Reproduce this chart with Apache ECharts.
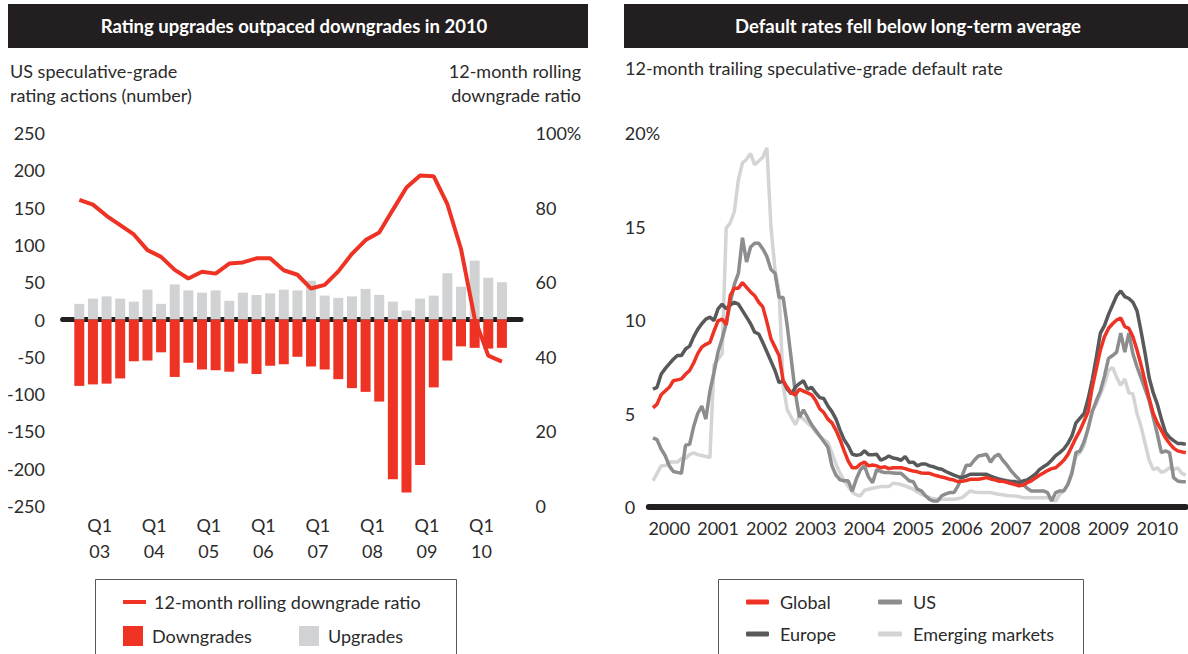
<!DOCTYPE html>
<html>
<head>
<meta charset="utf-8">
<title>Rating actions and default rates</title>
<script src="https://cdn.jsdelivr.net/npm/echarts@6/dist/echarts.min.js"></script>
<style>
  html, body { margin: 0; padding: 0; background: #fff; }
  #chart { width: 1188px; height: 654px; }
</style>
</head>
<body>
<div id="chart"></div>
<script>
// ---- left panel: US speculative-grade rating actions, Q1 2003 - Q4 2010 ----
var quarterYears = ['03', '04', '05', '06', '07', '08', '09', '10'];
var upgrades = [21, 28, 31, 28, 24, 40, 21, 47, 39, 36, 39, 25, 36, 33, 35, 40,
                39, 52, 32, 29, 31, 41, 33, 24, 12, 28, 32, 62, 44, 79, 56, 50];
var downgrades = [-89, -87, -86, -79, -56, -55, -44, -77, -58, -67, -68, -70, -59, -73, -62, -60,
                  -50, -63, -67, -80, -92, -97, -110, -214, -232, -195, -91, -55, -36, -38, -39, -38];
var downgradeRatio = [82.1, 80.8, 77.8, 75.3, 72.8, 68.6, 66.8, 63.3, 61.0, 62.8, 62.3, 65.0, 65.3, 66.4, 66.4, 63.2,
                      62.0, 58.3, 59.3, 62.9, 67.6, 71.3, 73.3, 79.4, 85.4, 88.6, 88.4, 80.9, 68.9, 50.3, 40.3, 38.7];

// ---- right panel: 12-month trailing default rate, monthly Jan 2000 - Dec 2010 ----
var years = ['2000', '2001', '2002', '2003', '2004', '2005', '2006', '2007', '2008', '2009', '2010'];
var globalRate = [
  5.3, 5.5, 6.0, 6.2, 6.4, 6.75, 6.8, 6.85, 7.1, 7.3, 7.7, 8.2,
  8.55, 8.7, 8.8, 9.4, 9.95, 10.05, 9.75, 11.3, 11.7, 11.7, 12.0, 11.75,
  11.5, 11.3, 10.95, 10.7, 9.9, 9.0, 8.55, 8.1, 6.75, 6.4, 6.1, 6.0,
  6.3, 6.2, 6.1, 6.0, 5.7, 5.25, 5.05, 4.7, 4.5, 4.1, 3.6, 3.0,
  2.45, 2.1, 2.1, 2.3, 2.4, 2.2, 2.25, 2.2, 2.1, 2.15, 2.05, 2.1,
  2.1, 2.1, 2.05, 1.98, 1.92, 1.88, 1.82, 1.8, 1.8, 1.72, 1.66, 1.6,
  1.55, 1.48, 1.44, 1.35, 1.38, 1.42, 1.48, 1.48, 1.48, 1.52, 1.57, 1.5,
  1.45, 1.38, 1.38, 1.32, 1.25, 1.2, 1.13, 1.18, 1.3, 1.4, 1.55, 1.7,
  1.82, 1.95, 2.05, 2.1, 2.29, 2.5, 2.8, 3.25, 3.7, 4.1, 4.6, 5.1,
  6.4, 7.4, 8.4, 9.1, 9.55, 9.8, 10.0, 10.1, 9.65, 9.55, 9.1, 8.4,
  7.6, 6.7, 5.8, 5.0, 4.5, 4.1, 3.7, 3.4, 3.15, 3.0, 2.95, 2.9
];
var usRate = [
  3.7, 3.6, 3.1, 2.75, 2.2, 1.9, 1.85, 1.8, 3.3, 3.35, 4.3, 5.0,
  5.4, 4.7, 6.2, 7.2, 8.3, 9.0, 9.8, 10.9, 11.9, 12.5, 14.4, 13.1,
  13.9, 14.1, 14.1, 13.8, 13.4, 12.7, 12.5, 11.2, 11.2, 9.7, 7.9, 6.1,
  4.8, 5.2, 4.8, 4.4, 4.1, 3.8, 3.5, 3.2, 2.2, 1.7, 1.45, 1.4,
  1.4, 0.85, 1.5, 2.0, 2.2, 1.6, 1.3, 2.0, 1.9, 1.84, 1.84, 1.82,
  1.8, 1.8, 1.6, 1.4, 1.35, 0.95, 0.86, 0.6, 0.41, 0.32, 0.32, 0.6,
  0.7, 0.77, 0.77, 1.13, 1.66, 2.23, 2.23, 2.5, 2.73, 2.77, 2.82, 2.4,
  2.7, 2.82, 2.5, 2.25, 1.95, 1.7, 1.48, 1.22, 1.0, 0.86, 0.86, 0.86,
  0.86, 0.77, 0.32, 0.77, 0.86, 0.86, 1.2, 1.8, 2.91, 3.0, 3.5, 4.2,
  5.1, 5.68, 6.2, 7.0, 7.95, 8.1, 8.28, 9.3, 8.28, 9.3, 8.19, 7.5,
  6.9, 6.3, 5.68, 4.8, 3.9, 2.91, 3.0, 2.91, 1.57, 1.39, 1.35, 1.35
];
var europeRate = [
  6.3, 6.4, 7.1, 7.4, 7.65, 7.9, 8.1, 8.1, 8.45, 8.6, 9.1, 9.5,
  9.8, 10.05, 10.15, 9.97, 10.6, 10.85, 10.6, 10.8, 10.95, 10.85, 10.5, 10.15,
  9.8, 9.35, 9.25, 8.8, 8.3, 7.8, 7.3, 6.65, 6.75, 6.3, 6.05, 6.4,
  6.6, 6.75, 6.3, 6.4, 6.1, 5.85, 5.8, 5.4, 5.1, 4.7, 4.1, 3.6,
  3.27, 2.82, 2.77, 2.8, 3.0, 2.8, 2.8, 2.82, 2.5, 2.6, 2.73, 2.62,
  2.58, 2.5, 2.7, 2.38, 2.4, 2.2, 2.3, 2.3, 2.2, 2.15, 2.06, 2.02,
  1.9, 1.8, 1.7, 1.62, 1.57, 1.65, 1.75, 1.75, 1.75, 1.75, 1.75, 1.65,
  1.57, 1.5, 1.45, 1.4, 1.36, 1.36, 1.3, 1.39, 1.45, 1.6, 1.75, 2.0,
  2.15, 2.29, 2.5, 2.75, 2.91, 3.1, 3.4, 3.8, 4.5, 4.75, 5.0, 5.8,
  6.8, 8.0, 9.3, 9.7, 10.3, 10.8, 11.3, 11.55, 11.25, 11.15, 10.95, 10.5,
  9.4, 8.2, 6.9, 6.1, 5.5, 4.7, 4.0, 3.72, 3.55, 3.4, 3.4, 3.35
];
var emergingRate = [
  1.4, 1.8, 2.2, 2.2, 2.4, 2.4, 2.4, 2.6, 2.6, 2.8, 2.9, 2.8,
  2.75, 2.7, 2.65, 7.6, 7.9, 8.2, 14.9, 15.2, 15.8, 17.5, 18.4, 18.6,
  18.9, 18.3, 18.5, 18.7, 19.2, 15.0, 12.7, 11.5, 6.5, 5.2, 4.8, 4.4,
  4.9, 4.7, 4.5, 4.3, 4.0, 3.8, 3.6, 3.45, 2.9, 2.3, 1.8, 1.4,
  1.1, 0.8, 0.65, 0.6, 0.9, 0.95, 1.0, 1.05, 1.09, 1.09, 1.09, 1.27,
  1.25, 1.2, 1.13, 1.04, 0.95, 0.8, 0.68, 0.6, 0.5, 0.45, 0.41, 0.41,
  0.41, 0.41, 0.41, 0.45, 0.5, 0.68, 0.86, 0.8, 0.77, 0.77, 0.77, 0.77,
  0.72, 0.68, 0.65, 0.62, 0.6, 0.59, 0.55, 0.5, 0.5, 0.5, 0.5, 0.5,
  0.5, 0.5, 0.4, 0.32, 0.68, 0.86, 1.22, 1.93, 2.73, 2.91, 3.3, 4.25,
  5.15, 5.5, 6.04, 6.58, 7.3, 7.47, 6.93, 6.5, 6.85, 6.1, 6.04, 5.0,
  4.3, 3.4, 2.5, 2.0, 2.1, 1.85, 1.93, 2.1, 2.0, 2.1, 1.8, 1.7
];

var RED = '#ee3224';
var TEXT = '#2b2b2b';
var FONT = 'Lato';

function pairs(arr) {
  return arr.map(function (v, i) { return [i, v]; });
}
// Q1 labels sit in the middle of each year's four bars
var q1Pos = quarterYears.map(function (y, k) { return 1.5 + 4 * k; });
// year labels near the middle of each year
var yearPos = years.map(function (y, k) { return 4 + 12 * k; });

var chart = echarts.init(document.getElementById('chart'), null, { renderer: 'svg' });

var labelStyle = { color: TEXT, fontFamily: FONT, fontSize: 18 };
var legendText = { color: TEXT, fontFamily: FONT, fontSize: 18 };

var option = {
  animation: false,
  backgroundColor: '#fff',
  grid: [
    { left: 62.6, top: 133, width: 458.4, height: 373 },
    { left: 648.8, top: 133, width: 537, height: 374 }
  ],
  xAxis: [
    { // zero line of the left panel
      gridIndex: 0, type: 'value', min: -1.225, max: 32.4, position: 'bottom',
      axisLine: { onZero: true, onZeroAxisIndex: 0, lineStyle: { color: '#231f20', width: 5 } },
      axisTick: { show: false }, axisLabel: { show: false }, splitLine: { show: false }
    },
    { // quarter labels of the left panel
      gridIndex: 0, type: 'value', min: -1.225, max: 32.4, position: 'bottom',
      axisLine: { show: false, onZero: false }, axisTick: { show: false }, splitLine: { show: false },
      axisLabel: {
        customValues: q1Pos, margin: 6, lineHeight: 26,
        color: TEXT, fontFamily: FONT, fontSize: 18,
        formatter: function (v) { return 'Q1\n' + quarterYears[Math.round((v - 1.5) / 4)]; }
      }
    },
    { // months of the right panel
      gridIndex: 1, type: 'value', min: -1.03, max: 131,
      axisLine: { lineStyle: { color: '#231f20', width: 6 } },
      axisTick: { show: false }, splitLine: { show: false },
      axisLabel: {
        customValues: yearPos, margin: 12,
        color: TEXT, fontFamily: FONT, fontSize: 18,
        formatter: function (v) { return years[Math.round((v - 4) / 12)]; }
      }
    }
  ],
  yAxis: [
    {
      gridIndex: 0, type: 'value', min: -250, max: 250, interval: 50, position: 'left',
      axisLine: { show: false }, axisTick: { show: false }, splitLine: { show: false },
      axisLabel: Object.assign({ margin: 17.6 }, labelStyle)
    },
    {
      gridIndex: 0, type: 'value', min: 0, max: 100, interval: 20, position: 'right',
      axisLine: { show: false }, axisTick: { show: false }, splitLine: { show: false },
      axisLabel: Object.assign({
        margin: 14.5,
        formatter: function (v) { return v === 100 ? '100%' : v; }
      }, labelStyle)
    },
    {
      gridIndex: 1, type: 'value', min: 0, max: 20, interval: 5, position: 'left',
      axisLine: { show: false }, axisTick: { show: false }, splitLine: { show: false },
      axisLabel: Object.assign({
        margin: 24, align: 'left',
        formatter: function (v) { return v === 20 ? '20%' : v; }
      }, labelStyle)
    }
  ],
  legend: [
    { data: ['12-month rolling downgrade ratio'], left: 123, top: 593, padding: 0, selectedMode: false,
      icon: 'rect', itemWidth: 23, itemHeight: 4, textStyle: Object.assign({ padding: [0, 0, 0, 3] }, legendText) },
    { data: ['Downgrades'], left: 123, top: 626, padding: 0, selectedMode: false,
      icon: 'rect', itemWidth: 20, itemHeight: 20, textStyle: Object.assign({ padding: [0, 0, 0, 4] }, legendText) },
    { data: ['Upgrades'], left: 299, top: 626, padding: 0, selectedMode: false,
      icon: 'rect', itemWidth: 20, itemHeight: 20, textStyle: Object.assign({ padding: [0, 0, 0, 4] }, legendText) },
    { data: ['Global'], left: 746, top: 593, padding: 0, selectedMode: false,
      icon: 'roundRect', itemWidth: 23, itemHeight: 5, textStyle: Object.assign({ padding: [0, 0, 0, 6] }, legendText) },
    { data: ['US'], left: 878, top: 593, padding: 0, selectedMode: false,
      icon: 'roundRect', itemWidth: 24, itemHeight: 5, textStyle: Object.assign({ padding: [0, 0, 0, 6] }, legendText) },
    { data: ['Europe'], left: 746, top: 625, padding: 0, selectedMode: false,
      icon: 'roundRect', itemWidth: 23, itemHeight: 5, textStyle: Object.assign({ padding: [0, 0, 0, 6] }, legendText) },
    { data: ['Emerging markets'], left: 878, top: 625, padding: 0, selectedMode: false,
      icon: 'roundRect', itemWidth: 24, itemHeight: 5, textStyle: Object.assign({ padding: [0, 0, 0, 6] }, legendText) }
  ],
  graphic: [
    { type: 'rect', shape: { x: 8, y: 4, width: 580, height: 44 }, style: { fill: '#231f20' } },
    { type: 'text', x: 294, y: 26, style: { text: 'Rating upgrades outpaced downgrades in 2010', fill: '#fff',
      font: 'bold 18.5px Lato', align: 'center', verticalAlign: 'middle' } },
    { type: 'rect', shape: { x: 624, y: 4, width: 564, height: 44 }, style: { fill: '#231f20' } },
    { type: 'text', x: 908, y: 26, style: { text: 'Default rates fell below long-term average', fill: '#fff',
      font: 'bold 18.5px Lato', align: 'center', verticalAlign: 'middle' } },
    { type: 'text', x: 10, y: 59, style: { text: 'US speculative-grade\nrating actions (number)', fill: TEXT,
      font: '18px Lato', lineHeight: 24, align: 'left', verticalAlign: 'top' } },
    { type: 'text', x: 581, y: 59, style: { text: '12-month rolling\ndowngrade ratio', fill: TEXT,
      font: '18px Lato', lineHeight: 24, align: 'right', verticalAlign: 'top' } },
    { type: 'text', x: 625, y: 59, style: { text: '12-month trailing speculative-grade default rate', fill: TEXT,
      font: '18px Lato', align: 'left', verticalAlign: 'top' } },
    { type: 'rect', shape: { x: 95.5, y: 579.5, width: 361, height: 90 }, style: { fill: 'none', stroke: '#58595b', lineWidth: 1 } },
    { type: 'rect', shape: { x: 718.5, y: 579.5, width: 365, height: 90 }, style: { fill: 'none', stroke: '#58595b', lineWidth: 1 } }
  ],
  series: [
    { name: 'Upgrades', type: 'bar', xAxisIndex: 0, yAxisIndex: 0, data: pairs(upgrades),
      barWidth: 10, barGap: '-100%', itemStyle: { color: '#d1d2d4' } },
    { name: 'Downgrades', type: 'bar', xAxisIndex: 0, yAxisIndex: 0, data: pairs(downgrades),
      barWidth: 10, barGap: '-100%', itemStyle: { color: RED } },
    { name: '12-month rolling downgrade ratio', type: 'line', xAxisIndex: 0, yAxisIndex: 1,
      data: pairs(downgradeRatio), symbol: 'none', color: RED, lineStyle: { color: RED, width: 4 }, z: 5 },

    { name: 'Emerging markets', type: 'line', xAxisIndex: 2, yAxisIndex: 2, data: pairs(emergingRate),
      symbol: 'none', color: '#d3d4d6', lineStyle: { color: '#d3d4d6', width: 3.5 }, z: 2 },
    { name: 'US', type: 'line', xAxisIndex: 2, yAxisIndex: 2, data: pairs(usRate),
      symbol: 'none', color: '#8c8d8f', lineStyle: { color: '#8c8d8f', width: 3.5 }, z: 3 },
    { name: 'Europe', type: 'line', xAxisIndex: 2, yAxisIndex: 2, data: pairs(europeRate),
      symbol: 'none', color: '#58595b', lineStyle: { color: '#58595b', width: 3.5 }, z: 4 },
    { name: 'Global', type: 'line', xAxisIndex: 2, yAxisIndex: 2, data: pairs(globalRate),
      symbol: 'none', color: RED, lineStyle: { color: RED, width: 3.5 }, z: 5 }
  ]
};
chart.setOption(option);
</script>
</body>
</html>
